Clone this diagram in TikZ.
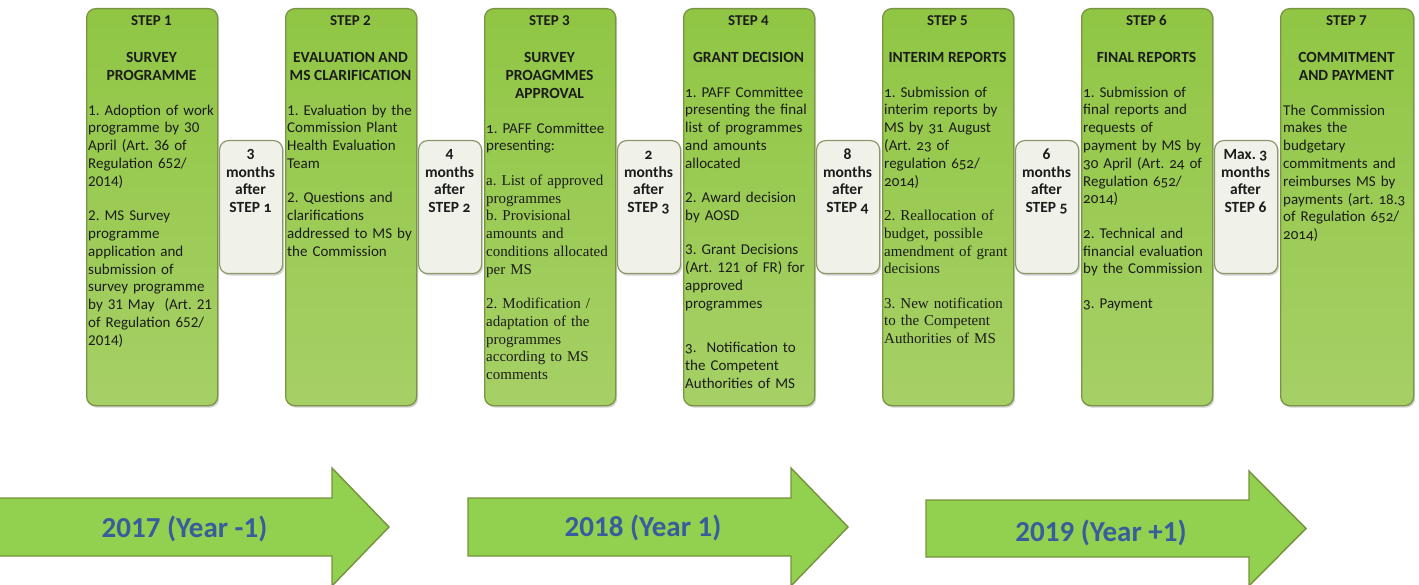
\documentclass[tikz,border=0pt]{standalone}
\usepackage{fontspec}
\setmainfont{Carlito}
\newfontfamily\tnr{Liberation Serif}
\newfontfamily\calos[Numbers=OldStyle]{Carlito}
\usetikzlibrary{shadows}
\definecolor{stepA}{HTML}{90C644}
\definecolor{stepB}{HTML}{A6D066}
\definecolor{stepline}{HTML}{7A9444}
\definecolor{gapfill}{HTML}{F0F2E9}
\definecolor{gapline}{HTML}{8A9868}
\definecolor{arrowfill}{HTML}{92D050}
\definecolor{arrowline}{HTML}{76923C}
\definecolor{yearblue}{HTML}{385D9D}
\definecolor{inkclr}{HTML}{1C1C1C}
\frenchspacing
\begin{document}
\frenchspacing
\begin{tikzpicture}[x=1pt,y=-1pt,
  stepframe/.style={draw=stepline, line width=1.3pt, rounded corners=9pt,
    top color=stepA, bottom color=stepB, minimum width=131pt, minimum height=397pt,
    anchor=north west, inner sep=0pt,
    drop shadow={shadow xshift=1.5pt, shadow yshift=-2pt, opacity=0.3, fill=black!60}},
  gapframe/.style={draw=gapline, line width=1.2pt, rounded corners=9pt,
    fill=gapfill, minimum width=63pt, minimum height=133pt,
    anchor=north west, inner sep=0pt,
    drop shadow={shadow xshift=1.5pt, shadow yshift=-2pt, opacity=0.3, fill=black!60}},
  steptitle/.style={font=\fontsize{15}{17}\selectfont\bfseries\frenchspacing, text=inkclr, inner sep=0pt, anchor=center},
  stephead/.style={font=\fontsize{15.5}{18}\selectfont\bfseries\frenchspacing, text=inkclr, align=center, inner sep=0pt, anchor=north},
  stepbody/.style={font=\fontsize{15}{17.8}\selectfont\frenchspacing, text=inkclr, align=left, text width=150pt, inner sep=0pt, anchor=north west},
  gaptext/.style={font=\fontsize{15.5}{17.6}\selectfont\bfseries\frenchspacing, text=inkclr, align=center, inner sep=0pt, anchor=north},
  yeararrow/.style={draw=arrowline, line width=1.4pt, fill=arrowfill, line join=miter},
  yeartext/.style={font=\fontsize{29}{34}\selectfont\bfseries, text=yearblue, inner sep=0pt}
]
\useasboundingbox (0,0) rectangle (1419,585);

% ---------- step frames ----------
\node[stepframe] (f1) at (86,8) {};
\node[stepframe] (f2) at (285,8) {};
\node[stepframe] (f3) at (484,8) {};
\node[stepframe] (f4) at (683,8) {};
\node[stepframe] (f5) at (882,8) {};
\node[stepframe] (f6) at (1081,8) {};
\node[stepframe, minimum width=133pt] (f7) at (1280,8) {};

% ---------- gap frames ----------
\node[gapframe] (g1) at (219,140) {};
\node[gapframe] (g2) at (418,140) {};
\node[gapframe] (g3) at (617,140) {};
\node[gapframe] (g4) at (816,140) {};
\node[gapframe] (g5) at (1015,140) {};
\node[gapframe] (g6) at (1214,140) {};

% ---------- titles ----------
\node[steptitle] (t1) at (151.5,20.5) {STEP 1};
\node[steptitle] (t2) at (350.5,20.5) {STEP 2};
\node[steptitle] (t3) at (549.5,20.5) {STEP 3};
\node[steptitle] (t4) at (748.5,20.5) {STEP 4};
\node[steptitle] (t5) at (947.5,20.5) {STEP 5};
\node[steptitle] (t6) at (1146.5,20.5) {STEP 6};
\node[steptitle] (t7) at (1346.5,20.5) {STEP 7};

% ---------- headers ----------
\node[stephead] (h1) at (151.5,49.4) {\strut SURVEY\\PROGRAMME};
\node[stephead] (h2) at (350.5,49.4) {\strut EVALUATION AND\\MS CLARIFICATION};
\node[stephead] (h3) at (549.5,49.4) {\strut SURVEY\\PROAGMMES\\APPROVAL};
\node[stephead] (h4) at (748.5,49.4) {\strut GRANT DECISION};
\node[stephead] (h5) at (947.5,49.4) {\strut INTERIM REPORTS};
\node[stephead] (h6) at (1146.5,49.4) {\strut FINAL REPORTS};
\node[stephead] (h7) at (1346.5,49.4) {\strut COMMITMENT\\AND PAYMENT};

% ---------- bodies ----------
\node[stepbody] (b1) at (88,102.5) {\strut 1. Adoption of work\\
programme by 30\\
April (Art. 36 of\\
Regulation 652/\\
2014)\\[16.5pt]
2. MS Survey\\
programme\\
application and\\
submission of\\
survey programme\\
by 31 May~ (Art. 21\\
of Regulation 652/\\
2014)};

\node[stepbody] (b2) at (287,102.5) {\strut 1. Evaluation by the\\
Commission Plant\\
Health Evaluation\\
Team\\[16.5pt]
2. Questions and\\
clarifications\\
addressed to MS by\\
the Commission};

\node[stepbody] (b3) at (486,120.5) {\strut{\calos 1.} PAFF Committee\\
presenting:\\[16.5pt]
{\tnr a. List of approved\\
programmes\\
b. Provisional\\
amounts and\\
conditions allocated\\
per MS\\[16.5pt]
2. Modification /\\
adaptation of the\\
programmes\\
according to MS\\
comments}};

\node[stepbody] (b4) at (685,84.5) {\strut{\calos 1.} PAFF Committee\\
presenting the final\\
list of programmes\\
and amounts\\
allocated\\[16.5pt]
2. Award decision\\
by AOSD\\[16.5pt]
3. Grant Decisions\\
(Art. 121 of FR) for\\
approved\\
programmes\\[27pt]
{\calos 3.}~ Notification to\\
the Competent\\
Authorities of MS};

\node[stepbody] (b5) at (884,84.5) {{\calos\strut 1. Submission of\\
interim reports by\\
MS by 31 August\\
(Art. 23 of\\
regulation 652/\\
2014)}\\[16.5pt]
{\tnr 2. Reallocation of\\
budget, possible\\
amendment of grant\\
decisions\\[16.5pt]
3. New notification\\
to the Competent\\
Authorities of MS}};

\node[stepbody] (b6) at (1083,84.5) {{\calos\strut 1. Submission of\\
final reports and\\
requests of\\
payment by MS by\\
30 April (Art. 24 of\\
Regulation 652/\\
2014)\\[16.5pt]
2. Technical and\\
financial evaluation\\
by the Commission\\[16.5pt]
3. Payment}};

\node[stepbody] (b7) at (1283,102.5) {\strut The Commission\\
makes the\\
budgetary\\
commitments and\\
reimburses MS by\\
payments (art. {\calos 18.3}\\
of Regulation {\calos 652/}\\
{\calos 2014)}};

% ---------- gap texts ----------
\node[gaptext] (gt1) at (250.5,147) {\strut 3\\months\\after\\STEP {\calos 1}};
\node[gaptext] (gt2) at (449.5,147) {\strut 4\\months\\after\\STEP {\calos 2}};
\node[gaptext] (gt3) at (648.5,147) {\strut {\calos 2}\\months\\after\\STEP {\calos 3}};
\node[gaptext] (gt4) at (847.5,147) {\strut 8\\months\\after\\STEP {\calos 4}};
\node[gaptext] (gt5) at (1046.5,147) {\strut 6\\months\\after\\STEP {\calos 5}};
\node[gaptext] (gt6) at (1245.5,147) {\strut Max. {\calos 3}\\months\\after\\STEP 6};

% ---------- year arrows ----------
\path[yeararrow] (-5,498) -- (332,498) -- (332,468) -- (389,527) -- (332,586) -- (332,556) -- (-5,556) -- cycle;
\path[yeararrow] (468,498) -- (791,498) -- (791,468) -- (848,527) -- (791,586) -- (791,556) -- (468,556) -- cycle;
\path[yeararrow] (926,500) -- (1249,500) -- (1249,471) -- (1306,528.5) -- (1249,586) -- (1249,557) -- (926,557) -- cycle;

\node[yeartext] (y1) at (184.5,529) {2017 (Year -1)};
\node[yeartext] (y2) at (643,528) {2018 (Year 1)};
\node[yeartext] (y3) at (1101,533) {2019 (Year +1)};
\end{tikzpicture}
\end{document}
